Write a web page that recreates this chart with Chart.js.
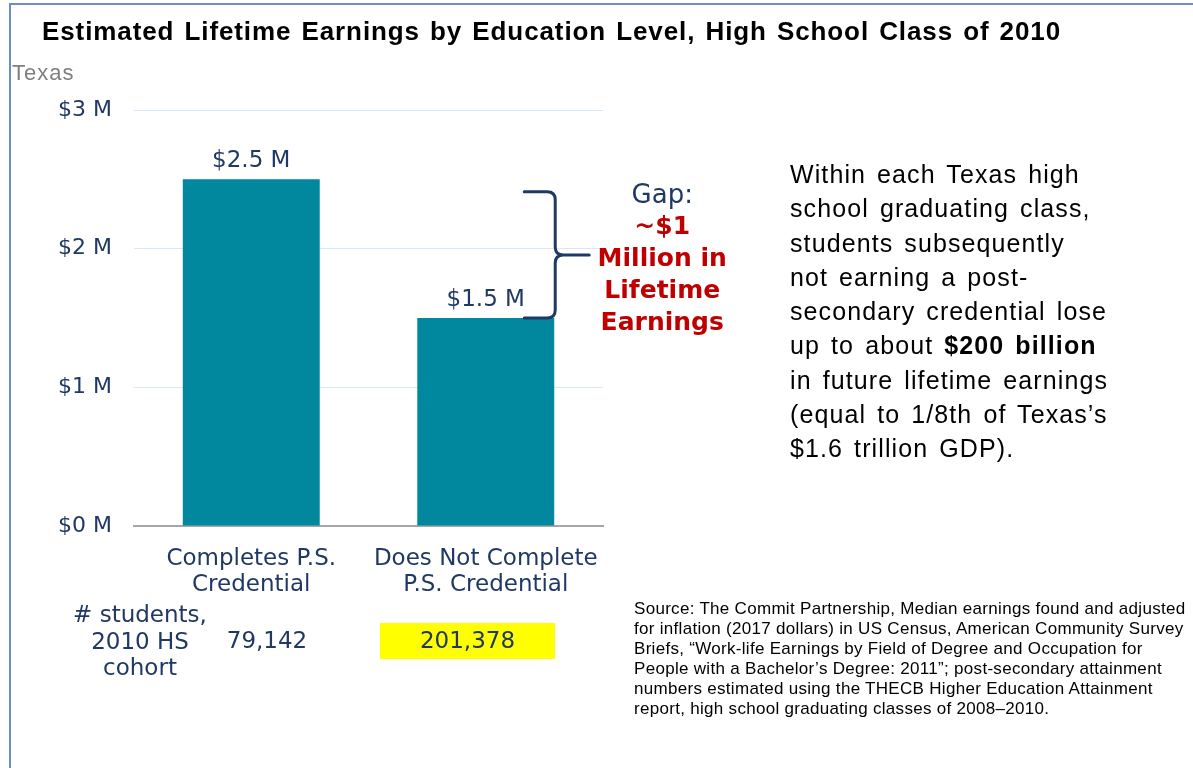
<!DOCTYPE html>
<html>
<head>
<meta charset="utf-8">
<script src="https://cdn.jsdelivr.net/npm/chart.js@4.4.1/dist/chart.umd.min.js"></script>
<style>
  html, body { margin: 0; padding: 0; background: #fff; }
  #stage { position: relative; width: 1193px; height: 768px; overflow: hidden; background: #fff; }
  #chart { position: absolute; left: 0; top: 0; }
  .frame-top { position: absolute; left: 9px; top: 3px; right: 0; height: 2px; background: #6f8cc8; }
  .frame-left { position: absolute; left: 9px; top: 3px; bottom: 0; width: 2px; background: #6f8cc8; }
  .arial { font-family: "Liberation Sans", Arial, sans-serif; }
  .title { position: absolute; left: 42px; top: 18px; font-size: 26px; font-weight: bold; line-height: 26px; white-space: nowrap; word-spacing: 2px; letter-spacing: 0.9px; color: #000; }
  .region { position: absolute; left: 12px; top: 62px; font-size: 22px; line-height: 22px; letter-spacing: 1px; color: #7f7f7f; }
  .note { position: absolute; left: 790px; top: 157px; font-size: 25px; line-height: 34.3px; letter-spacing: 1.1px; word-spacing: 3px; color: #000; white-space: nowrap; }
  .source { position: absolute; left: 634px; top: 599px; font-size: 17px; line-height: 20px; letter-spacing: 0.3px; color: #000; white-space: nowrap; }
  .count-label { position: absolute; left: 70px; width: 140px; top: 601px; text-align: center; font: 23px "DejaVu Sans", Verdana, sans-serif; line-height: 26.5px; color: #1f3864; }
  .count { position: absolute; top: 623px; height: 32px; padding-top: 4px; line-height: 32px; text-align: center; font: 23px "DejaVu Sans", Verdana, sans-serif; color: #1f3864; }
</style>
</head>
<body>
<div id="stage">
  <canvas id="chart" width="1193" height="768"></canvas>
  <div class="frame-top"></div>
  <div class="frame-left"></div>
  <div class="title arial">Estimated Lifetime Earnings by Education Level, High School Class of 2010</div>
  <div class="region arial">Texas</div>
  <div class="note arial">Within each Texas high<br>school graduating class,<br>students subsequently<br>not earning a post-<br>secondary credential lose<br>up to about <b>$200 billion</b><br>in future lifetime earnings<br>(equal to 1/8th of Texas’s<br>$1.6 trillion GDP).</div>
  <div class="source arial">Source: The Commit Partnership, Median earnings found and adjusted<br>for inflation (2017 dollars) in US Census, American Community Survey<br>Briefs, “Work-life Earnings by Field of Degree and Occupation for<br>People with a Bachelor’s Degree: 2011”; post-secondary attainment<br>numbers estimated using the THECB Higher Education Attainment<br>report, high school graduating classes of 2008–2010.</div>
  <div class="count-label"># students,<br>2010 HS<br>cohort</div>
  <div id="counts"></div>
</div>
<script>
// Chart data
const categories = [['Completes P.S.', 'Credential'], ['Does Not Complete', 'P.S. Credential']];
const earnings = [2.5, 1.5]; // lifetime earnings, $ millions
const yTickLabels = ['$0 M', '$1 M', '$2 M', '$3 M'];
const studentCounts = ['79,142', '201,378'];
const highlighted = [false, true];

// Gap annotation
const gapTop = 2.41; // top end of the brace, $ millions
const gapHeading = 'Gap:';
const gapLines = ['~$1', 'Million in', 'Lifetime', 'Earnings'];

const NAVY = '#1f3864';
const TEAL = '#01889f';
const RED = '#c00000';

// Bar value labels, gap brace and its text
const annotations = {
    id: 'annotations',
    afterDatasetsDraw(chart) {
        const ctx = chart.ctx;
        const yScale = chart.scales.y;
        const bars = chart.getDatasetMeta(0).data;

        ctx.save();
        ctx.fillStyle = NAVY;
        ctx.font = '23px "DejaVu Sans"';
        ctx.textAlign = 'center';
        ctx.textBaseline = 'alphabetic';
        bars.forEach((bar, i) => {
            ctx.fillText('$' + earnings[i] + ' M', bar.x, bar.y - 12);
        });

        // brace beside the second bar
        const bar = bars[1];
        const xs = bar.x + bar.width / 2 + 1;
        const xl = xs - 31;
        const xt = xs + 34;
        const top = yScale.getPixelForValue(gapTop);
        const bottom = yScale.getPixelForValue(earnings[1]);
        const mid = (top + bottom) / 2;
        const r = 8;
        ctx.strokeStyle = NAVY;
        ctx.lineWidth = 3;
        ctx.lineCap = 'round';
        ctx.beginPath();
        ctx.moveTo(xl, top);
        ctx.lineTo(xs - r, top);
        ctx.quadraticCurveTo(xs, top, xs, top + r);
        ctx.lineTo(xs, mid - r);
        ctx.quadraticCurveTo(xs, mid, xs + r, mid);
        ctx.lineTo(xt, mid);
        ctx.moveTo(xs + r, mid);
        ctx.quadraticCurveTo(xs, mid, xs, mid + r);
        ctx.lineTo(xs, bottom - r);
        ctx.quadraticCurveTo(xs, bottom, xs - r, bottom);
        ctx.lineTo(xl, bottom);
        ctx.stroke();

        // gap text
        const cx = xs + 107;
        ctx.font = '26px "DejaVu Sans"';
        ctx.fillStyle = NAVY;
        ctx.fillText(gapHeading, cx, top + 11);
        ctx.font = 'bold 25px "DejaVu Sans"';
        ctx.fillStyle = RED;
        gapLines.forEach((line, i) => {
            ctx.fillText(line, cx, top + 42 + i * 32);
        });
        ctx.restore();
    }
};

const chart = new Chart(document.getElementById('chart'), {
    type: 'bar',
    data: {
        labels: categories,
        datasets: [{
            data: earnings,
            backgroundColor: TEAL,
            borderWidth: 0,
            barPercentage: 0.584,
            categoryPercentage: 1
        }]
    },
    options: {
        responsive: false,
        devicePixelRatio: 1,
        animation: false,
        layout: { padding: { left: 0, top: 110, right: 590, bottom: 0 } },
        plugins: {
            legend: { display: false },
            tooltip: { enabled: false }
        },
        scales: {
            x: {
                grid: { display: false, drawTicks: false },
                border: { display: true, color: '#a6a6a6', width: 2 },
                ticks: {
                    color: NAVY,
                    font: { family: 'DejaVu Sans', size: 23, lineHeight: 1.13 },
                    padding: 20,
                    maxRotation: 0,
                    autoSkip: false
                },
                afterFit(scale) { scale.height = 242; }
            },
            y: {
                min: 0,
                max: 3,
                ticks: {
                    stepSize: 1,
                    color: NAVY,
                    font: { family: 'DejaVu Sans', size: 22 },
                    padding: 22,
                    callback: (value, index) => yTickLabels[index]
                },
                grid: {
                    drawTicks: false,
                    lineWidth: 1,
                    color: (ctx) => ctx.tick && ctx.tick.value === 0 ? 'rgba(0,0,0,0)' : '#d6e8f7'
                },
                border: { display: false },
                afterFit(scale) { scale.width = 134; }
            }
        }
    },
    plugins: [annotations]
});

// Student counts row under the categories
const countX = [222, 380];
const countW = [90, 175];
document.getElementById('counts').innerHTML = studentCounts.map((n, i) =>
    `<div class="count" style="left:${countX[i]}px;width:${countW[i]}px;` +
    `background:${highlighted[i] ? '#ffff00' : 'transparent'}">${n}</div>`
).join('');
</script>
</body>
</html>
